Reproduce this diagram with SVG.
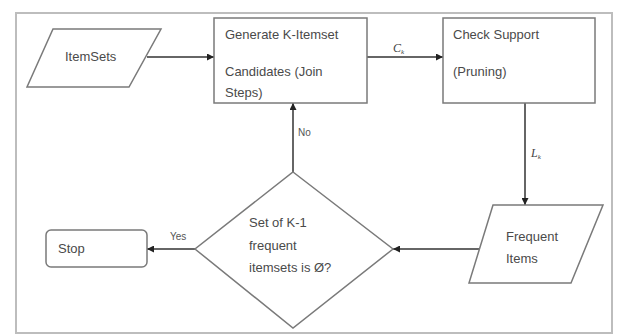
<svg xmlns="http://www.w3.org/2000/svg" width="618" height="336" viewBox="0 0 618 336">
<style>
.shape{fill:#fff;stroke:#7a7a7a;stroke-width:1.5}
.t{font-family:"Liberation Sans",Arial,sans-serif;font-size:13px;fill:#4a4a4a}
.s{font-family:"Liberation Sans",Arial,sans-serif;font-size:10px;fill:#555}
.m{font-family:"Liberation Serif","Times New Roman",serif;font-size:12px;font-style:italic;fill:#444}
.c{stroke:#333;stroke-width:1.5;fill:none}
</style>
<defs>
<marker id="ah" viewBox="0 0 10 10" refX="10" refY="5" markerWidth="7" markerHeight="7" orient="auto" markerUnits="userSpaceOnUse">
<path d="M0,0 L10,5 L0,10 z" fill="#222"/>
</marker>
</defs>
<rect x="16" y="13" width="596" height="320" fill="#fff" stroke="#bdbdbd" stroke-width="2"/>
<g id="connectors">
<line class="c" x1="147" y1="57" x2="214" y2="57" marker-end="url(#ah)"/>
<line class="c" x1="367" y1="57" x2="443" y2="57" marker-end="url(#ah)"/>
<text class="m" x="393" y="52">C<tspan font-size="7" dy="2">k</tspan></text>
<line class="c" x1="525" y1="103" x2="525" y2="205" marker-end="url(#ah)"/>
<text class="m" x="531" y="157">L<tspan font-size="7" dy="2">k</tspan></text>
<line class="c" x1="483" y1="249" x2="393" y2="249" marker-end="url(#ah)"/>
<line class="c" x1="293" y1="172" x2="293" y2="103" marker-end="url(#ah)"/>
<text class="s" x="298" y="136">No</text>
<line class="c" x1="195" y1="249" x2="147" y2="249" marker-end="url(#ah)"/>
<text class="s" x="170" y="240">Yes</text>
</g>
<g id="itemsets">
<polygon class="shape" points="53,29 161,29 129,87 27,87"/>
<text class="t" x="65" y="61">ItemSets</text>
</g>
<g id="generate">
<rect class="shape" x="214" y="18" width="153" height="85"/>
<text class="t" x="225" y="39">Generate K-Itemset</text>
<text class="t" x="225" y="76">Candidates (Join</text>
<text class="t" x="225" y="97">Steps)</text>
</g>
<g id="check">
<rect class="shape" x="443" y="18" width="152" height="85"/>
<text class="t" x="453" y="39">Check Support</text>
<text class="t" x="453" y="76">(Pruning)</text>
</g>
<g id="frequent">
<polygon class="shape" points="493,205 603,205 571,283 469,283"/>
<text class="t" x="506" y="241">Frequent</text>
<text class="t" x="506" y="263">Items</text>
</g>
<g id="decision">
<polygon class="shape" points="293,172 393,249 293,328 195,249"/>
<text class="t" x="249" y="227">Set of K-1</text>
<text class="t" x="249" y="250">frequent</text>
<text class="t" x="249" y="272">itemsets is Ø?</text>
</g>
<g id="stop">
<rect class="shape" x="46" y="230" width="101" height="37" rx="5"/>
<text class="t" x="58" y="253">Stop</text>
</g>
</svg>
